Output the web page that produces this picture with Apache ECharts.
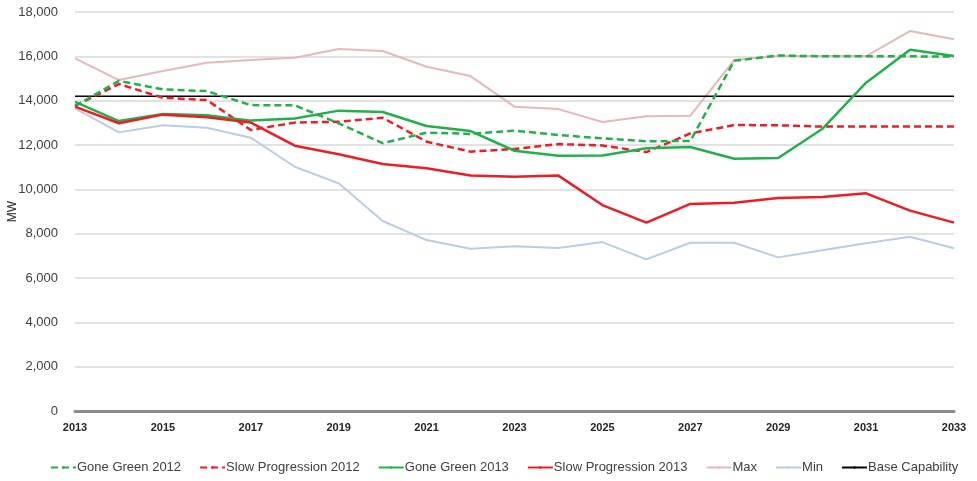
<!DOCTYPE html>
<html><head><meta charset="utf-8">
<script src="https://cdn.jsdelivr.net/npm/echarts@6/dist/echarts.min.js"></script>
<style>html,body{margin:0;padding:0;background:#fff}#c{width:977px;height:481px}</style>
</head><body><div id="c"></div>
<script>
const years = ['2013','2014','2015','2016','2017','2018','2019','2020','2021','2022','2023','2024','2025','2026','2027','2028','2029','2030','2031','2032','2033'];
const goneGreen2012 = [13760,14890,14510,14430,13800,13790,12980,12080,12560,12500,12650,12450,12300,12170,12180,15800,16040,16000,16000,16000,15990];
const slowProg2012 = [13760,14750,14130,14030,12680,13010,13050,13230,12150,11700,11820,12040,11980,11680,12520,12900,12890,12830,12830,12830,12830];
const goneGreen2013 = [13950,13080,13400,13340,13100,13200,13550,13490,12860,12630,11740,11520,11530,11850,11910,11380,11410,12720,14810,16300,16010];
const slowProg2013 = [13730,12980,13370,13250,13010,11970,11580,11140,10950,10620,10570,10620,9290,8500,9340,9400,9610,9650,9820,9040,8500];
const maxVals = [15910,14930,15340,15710,15830,15940,16330,16240,15530,15110,13730,13620,13040,13300,13320,15830,16010,16010,16010,17140,16770];
const minVals = [13650,12570,12890,12780,12330,11020,10270,8570,7710,7320,7430,7350,7620,6840,7590,7590,6930,7250,7570,7860,7340];
const baseCapability = years.map(() => 14200);
const seriesNames = ['Gone Green 2012','Slow Progression 2012','Gone Green 2013','Slow Progression 2013','Max','Min','Base Capability'];

const FONT = 'Liberation Sans';
function mk(name, data, color, width, dashed, z) {
  return {
    name, type: 'line', data, symbol: 'none', z: z,
    lineStyle: { color, width, type: dashed ? [7, 4] : 'solid' },
    itemStyle: { color },
    emphasis: { disabled: true }
  };
}
const chart = echarts.init(document.getElementById('c'));
chart.setOption({
  animation: false,
  grid: { left: 75, right: 23, top: 12, bottom: 70, containLabel: false, outerBoundsMode: 'none' },
  legend: {
    bottom: 7, left: 50, padding: 0, itemWidth: 25, itemHeight: 3, itemGap: 18,
    textStyle: { fontFamily: FONT, fontSize: 13, color: '#404040', padding: [0, 0, 0, -4] },
    data: seriesNames
  },
  xAxis: {
    type: 'category', data: years, boundaryGap: false,
    axisLine: { lineStyle: { color: '#8c8c8c', width: 3 } },
    axisTick: { show: false },
    axisLabel: { interval: 1, fontFamily: FONT, fontSize: 11, fontWeight: 'bold', color: '#262626', margin: 11 }
  },
  yAxis: {
    type: 'value', min: 0, max: 18000, interval: 2000,
    name: 'MW', nameLocation: 'middle', nameGap: 56, nameRotate: 90, nameMoveOverlap: false,
    nameTextStyle: { fontFamily: FONT, fontSize: 12, color: '#262626' },
    axisLine: { show: false }, axisTick: { show: false },
    splitLine: { lineStyle: { color: '#d9d9d9', width: 1.5 } },
    axisLabel: {
      fontFamily: FONT, fontSize: 13, color: '#404040', margin: 17,
      formatter: v => v.toLocaleString('en-US')
    }
  },
  series: [
    mk(seriesNames[0], goneGreen2012, '#22b04b', 2.5, true, 6),
    mk(seriesNames[1], slowProg2012, '#ee1d24', 2.5, true, 5),
    mk(seriesNames[2], goneGreen2013, '#22b04b', 2.5, false, 7),
    mk(seriesNames[3], slowProg2013, '#ee1d24', 2.5, false, 7),
    mk(seriesNames[4], maxVals, '#e6b9b8', 2, false, 3),
    mk(seriesNames[5], minVals, '#b9cde5', 2, false, 3),
    mk(seriesNames[6], baseCapability, '#000000', 1.5, false, 4)
  ]
});
</script></body></html>
